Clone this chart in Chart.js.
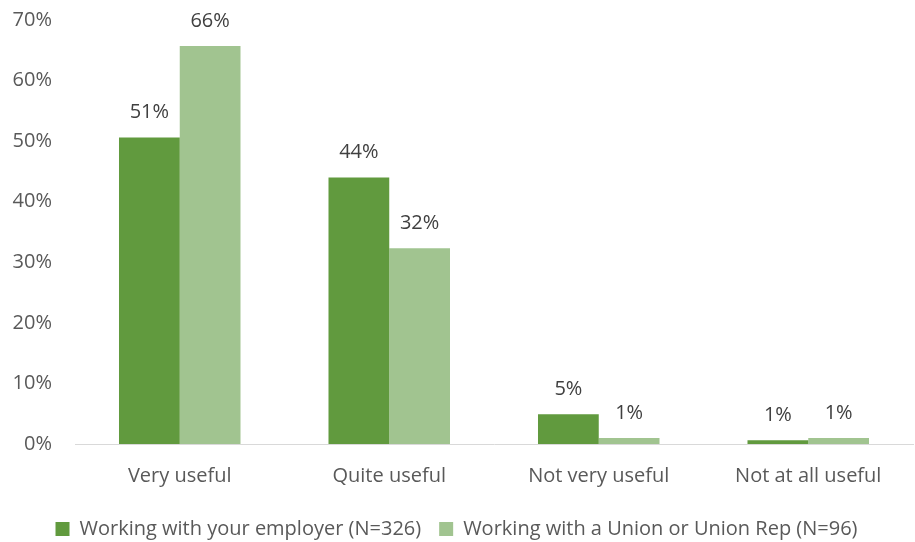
<!DOCTYPE html>
<html>
<head>
<meta charset="utf-8">
<script src="https://cdn.jsdelivr.net/npm/chart.js@4"></script>
<style>
  html, body { margin: 0; padding: 0; background: #fff; }
  #wrap { width: 915px; height: 542px; }
</style>
</head>
<body>
<div id="wrap"><canvas id="grafik"></canvas></div>
<script>
// data
const kategori = ["Very useful", "Quite useful", "Not very useful", "Not at all useful"];
const employer = [50.6, 44.0, 4.9, 0.6];
const union = [65.7, 32.3, 1.0, 1.0];
const labelEmployer = "Working with your employer (N=326)";
const labelUnion = "Working with a Union or Union Rep (N=96)";

const warnaTeks = "#595959";
const fontName = "'Open Sans', 'Liberation Sans', sans-serif";

// draw the % labels above each bar
const labelAtas = {
    id: "labelAtas",
    afterDatasetsDraw(chart) {
        const ctx = chart.ctx;
        ctx.save();
        ctx.font = "20px " + fontName;
        ctx.fillStyle = "#404040";
        ctx.textAlign = "center";
        ctx.textBaseline = "middle";
        chart.data.datasets.forEach((ds, i) => {
            chart.getDatasetMeta(i).data.forEach((bar, j) => {
                ctx.fillText(Math.round(ds.data[j]) + "%", bar.x, bar.y - 25);
            });
        });
        ctx.restore();
    }
};

new Chart(document.getElementById("grafik").getContext("2d"), {
    type: "bar",
    data: {
        labels: kategori,
        datasets: [
            { label: labelEmployer, data: employer, backgroundColor: "#619A3E" },
            { label: labelUnion, data: union, backgroundColor: "#A1C490" }
        ]
    },
    options: {
        responsive: true,
        maintainAspectRatio: false,
        animation: false,
        layout: { padding: { top: 20, right: 2, left: 0, bottom: 0 } },
        datasets: { bar: { categoryPercentage: 0.58, barPercentage: 1 } },
        scales: {
            x: {
                grid: { display: false, drawTicks: false },
                border: { display: true, color: "#D9D9D9", width: 1 },
                afterFit: s => { s.height = 57; },
                ticks: { color: warnaTeks, font: { family: fontName, size: 20 }, padding: 20 }
            },
            y: {
                min: 0,
                max: 70,
                grid: { display: false, drawTicks: false },
                border: { display: false },
                afterFit: s => { s.width = 75; s.paddingTop = 0; },
                ticks: {
                    stepSize: 10,
                    color: warnaTeks,
                    font: { family: fontName, size: 20 },
                    padding: 23,
                    callback: v => v + "%"
                }
            }
        },
        plugins: {
            legend: {
                position: "bottom",
                maxHeight: 41,
                labels: {
                    color: warnaTeks,
                    font: { family: fontName, size: 20 },
                    boxWidth: 14,
                    boxHeight: 14,
                    padding: 18
                }
            },
            tooltip: { enabled: false }
        }
    },
    plugins: [labelAtas]
});
</script>
</body>
</html>
